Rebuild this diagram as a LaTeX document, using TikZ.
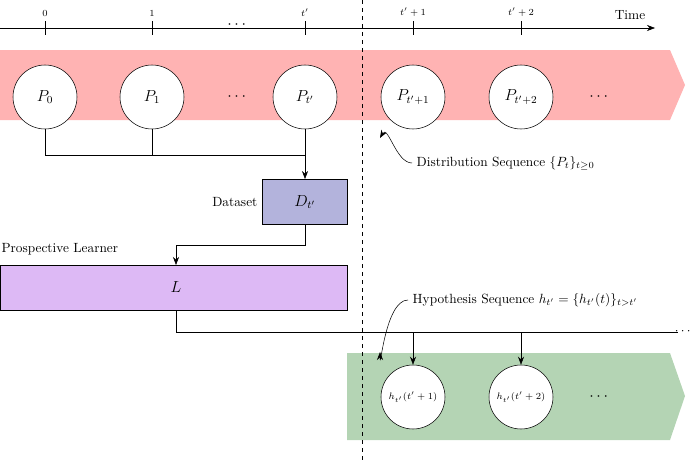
\documentclass[tikz,border=0pt]{standalone}
\usepackage{amssymb,amsmath}
\usetikzlibrary{arrows,arrows.meta}
\definecolor{distpink}{RGB}{255,179,179}
\definecolor{datablue}{RGB}{179,179,220}
\definecolor{learnpurple}{RGB}{221,185,245}
\definecolor{hypgreen}{RGB}{180,212,180}
\tikzset{
  state/.style={circle,draw,fill=white,minimum size=48pt,inner sep=0.75pt,font=\large},
  block/.style={draw,inner sep=0.75pt},
  arr/.style={-{Stealth[length=6pt]}},
}
\begin{document}
\begin{tikzpicture}[x=0.75pt,y=0.75pt,yscale=-1,xscale=1]
\useasboundingbox (0,0) rectangle (693,464);

% Bands
\fill[distpink] (0,50) -- (670,50) -- (685,85) -- (670,120) -- (0,120) -- cycle;
\fill[hypgreen] (347,353) -- (670,353) -- (685,396) -- (670,440) -- (347,440) -- cycle;

% Time axis
\coordinate (t0) at (0,28);
\coordinate (t1) at (655,28);
\draw[arr] (t0) -- (t1);
\node[anchor=south] at (630,24) {Time};
\foreach \x/\lab in {45/0,152/1,305/t',413/t'+1,521/t'+2}{
  \draw (\x,21) -- (\x,35);
  \node[anchor=south,inner sep=1pt] at (\x,18) {\scriptsize $\lab$};
}
\node at (238,25) {\large $\cdots$};

% Divider
\draw[dashed] (362,0) -- (362,464);

% Distributions
\node[state] (p0) at (45,97) {$P_0$};
\node[state] (p1) at (152,97) {$P_1$};
\node[state] (pt) at (305,97) {$P_{t'}$};
\node[state] (pt1) at (413,97) {$P_{t'+1}$};
\node[state] (pt2) at (521,97) {$P_{t'+2}$};
\node at (238,97) {\large $\cdots$};
\node at (600,97) {\large $\cdots$};

% Dataset
\node[block,fill=datablue,minimum width=64pt,minimum height=34pt,font=\large] (d) at (305,202) {$D_{t'}$};
\node[anchor=east] at (d.west) {Dataset};
\draw (p0.south) |- (305,155);
\draw (p1.south) -- (152,155);
\draw[arr] (pt.south) -- (d.north);

% Learner
\node[block,fill=learnpurple,minimum width=260pt,minimum height=34pt,anchor=north west] (l) at (0,265) {};
\node at (176,287) {\large $L$};
\node[anchor=south west,inner sep=1pt] at (0,257) {Prospective Learner};
\coordinate (lt) at (176,265);
\draw[arr] (d.south) |- (176,245) -- (lt);

% Hypotheses
\node[state] (h1) at (413,397) {\scriptsize $h_{t'}(t'+1)$};
\node[state] (h2) at (521,397) {\scriptsize $h_{t'}(t'+2)$};
\node at (600,397) {\large $\cdots$};
\coordinate (lb) at (176,310);
\coordinate (le) at (678,332);
\draw (lb) |- (le);
\node[anchor=east,inner sep=0pt] at (693,332) {$\cdots$};
\draw[arr] (413,332) -- (h1.north);
\draw[arr] (521,332) -- (h2.north);

% Annotations
\node[anchor=west] (dseq) at (412,163) {Distribution Sequence $\{P_t\}_{t\geq 0}$};
\coordinate (dtip) at (380,138);
\draw[arr] (dseq.west) to[out=180,in=-60] (dtip);
\node[anchor=west] (hseq) at (408,300) {Hypothesis Sequence $h_{t'}=\{h_{t'}(t)\}_{t>t'}$};
\coordinate (htip) at (380,352);
\draw[arr] (hseq.west) to[out=180,in=90] (htip);
\end{tikzpicture}
\end{document}
